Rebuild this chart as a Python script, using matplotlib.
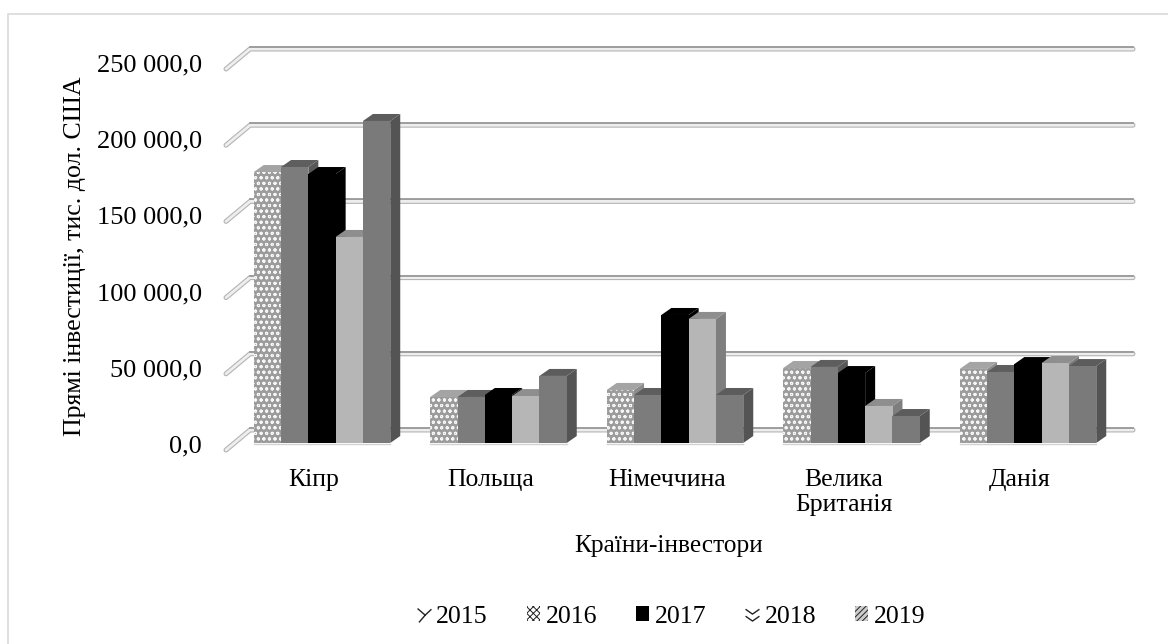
import matplotlib
matplotlib.use("Agg")
import matplotlib.pyplot as plt
from matplotlib.lines import Line2D
from matplotlib.patches import Patch
from matplotlib.path import Path
from matplotlib.transforms import Affine2D

plt.rcParams['font.family'] = ['Liberation Serif', 'DejaVu Serif']
plt.rcParams['hatch.linewidth'] = 0.7

countries = ['Кіпр', 'Польща', 'Німеччина', 'Велика\nБританія', 'Данія']
years = ['2015', '2016', '2017', '2018', '2019']
v2015 = [177800, 30200, 34800, 49200, 48600]
v2016 = [181100, 30200, 31500, 49900, 46600]
v2017 = [176500, 31500, 84000, 45900, 51800]
v2018 = [135200, 30800, 81400, 24300, 52500]
v2019 = [211300, 44000, 31500, 17700, 50500]
series = [v2015, v2016, v2017, v2018, v2019]
yticks = [0, 50000, 100000, 150000, 200000, 250000]
ytick_labels = ['0,0', '50 000,0', '100 000,0', '150 000,0', '200 000,0', '250 000,0']

front = ['#9c9c9c', '#7c7c7c', '#000000', '#b6b6b6', '#7a7a7a']
hatches = ['ooo', None, None, None, None]
tops = ['#a4a4a4', '#5e5e5e', '#000000', '#8e8e8e', '#5c5c5c']
sides = ['#8c8c8c', '#585858', '#000000', '#7e7e7e', '#545454']

W, H = 1168, 644
fig = plt.figure(figsize=(W / 100, H / 100), dpi=100, facecolor='white')
PX_L, PX_R, PX_B, PX_T = 226, 1135, 443, 62
ax = fig.add_axes([PX_L / W, 1 - PX_B / H, (PX_R - PX_L) / W, (PX_B - PX_T) / H])
STEP = 176.5
ax.set_xlim((PX_L - 322) / STEP, (PX_R - 322) / STEP)
ax.set_ylim(0, 250000)
ax.patch.set_visible(False)
for s in ax.spines.values():
    s.set_visible(False)

PXY = 250000 / (PX_B - PX_T)
BAR = 27.3 / STEP
DX, DY = 10 / STEP, 7 * PXY

# outer frame: only the left and top edges are visible
fig.add_artist(Line2D([8 / W, 8 / W, 1], [0, 1 - 14 / H, 1 - 14 / H],
                      color='#dcdcdc', lw=1.3, transform=fig.transFigure))

# back wall grid lines with their side-wall stubs
x0 = ax.get_xlim()[0]
xb = x0 + 24 / STEP
xe = (1133 - 322) / STEP
wall = ax.transData + Affine2D().translate(0, 13)
wall_top = ax.transData + Affine2D().translate(0, 15)
floor = 6 * PXY
for v in yticks:
    xs = [x0, xb, xe]
    ys = [v - 14 * PXY - floor, v, v]
    ax.plot(xs, ys, color='#b4b4b4', lw=3.6, solid_capstyle='round', solid_joinstyle='round',
            transform=wall, clip_on=False, zorder=1)
    ax.plot(xs, ys, color='#eeeeee', lw=2.0, solid_capstyle='round', solid_joinstyle='round',
            transform=wall, clip_on=False, zorder=1.1)
    ax.plot([xb, xe], [v, v], color='#9a9a9a', lw=1.3, transform=wall_top,
            clip_on=False, zorder=1.2)

# bars: front face from ax.bar, top and side faces as sheared polygons
for i, vals in enumerate(series):
    for k, v in enumerate(vals):
        x = k + (i - 2) * BAR
        z = 3 + i
        l, r = x - BAR / 2, x + BAR / 2
        ax.fill([r, r + DX, r + DX, r], [0, DY, v + DY, v], color=sides[i], lw=0, zorder=z, clip_on=False)
        ax.fill([l, l + DX, r + DX, r], [v, v + DY, v + DY, v], color=tops[i], lw=0, zorder=z, clip_on=False)
    ax.bar([k + (i - 2) * BAR for k in range(5)], vals, width=BAR, color=front[i],
           edgecolor='#f6f6f6' if hatches[i] else front[i],
           hatch=hatches[i], lw=0, zorder=3 + i + 0.5, clip_on=False)

# floor edge beneath the bars
for k in range(5):
    ax.plot([k - 2.5 * BAR, k + 2.5 * BAR], [-0.8 * PXY, -0.8 * PXY], color='#d2d2d2', lw=1.0,
            clip_on=False, zorder=9)

FS = 18.5
ax.set_yticks(yticks, ytick_labels)
ax.set_xticks([k - 0.045 for k in range(5)], countries)
ax.tick_params(axis='y', length=0, pad=17.5, labelsize=19)
ax.tick_params(axis='x', length=0, pad=19, labelsize=FS)
shift = Affine2D().translate(0, -3.5)
for t in ax.get_yticklabels():
    t.set_verticalalignment('center')
    t.set_transform(t.get_transform() + shift)
for t in ax.get_xticklabels():
    t.set_linespacing(1.16)

fig.text(668.5 / W, 1 - 546 / H, 'Країни-інвестори', ha='center', va='center', fontsize=18.3)
fig.text(75 / W, 1 - 256 / H, 'Прямі інвестиції, тис. дол. США', rotation=90,
         ha='center', va='center', fontsize=18.6)

# legend
m15 = Path([(-1, 1), (0.1, 0.05), (1, 0.9), (0.1, 0.05), (-0.8, -1)],
           [Path.MOVETO, Path.LINETO, Path.LINETO, Path.MOVETO, Path.LINETO])
m18 = Path([(-1, 0.9), (0, 0.2), (1, 0.9), (-1, -0.1), (0, -0.8), (1, -0.1)],
           [Path.MOVETO, Path.LINETO, Path.LINETO, Path.MOVETO, Path.LINETO, Path.LINETO])
handles = [
    Line2D([], [], marker=m15, ms=10, mfc='none', mec='#222222', mew=1.0, ls='none'),
    Patch(facecolor='white', edgecolor='#222222', hatch='xxxxx', lw=0),
    Patch(facecolor='black', edgecolor='black', lw=0),
    Line2D([], [], marker=m18, ms=10, mfc='none', mec='#222222', mew=1.0, ls='none'),
    Patch(facecolor='#cccccc', edgecolor='#222222', hatch='//////', lw=0),
]
leg = fig.legend(handles, years, loc='center', bbox_to_anchor=(671.5 / W, 1 - 617 / H), ncol=5, frameon=False,
                 fontsize=18.6, handlelength=0.52, handleheight=0.52, handletextpad=0.22,
                 columnspacing=1.5, borderpad=0, borderaxespad=0)

fig.savefig('out.png', dpi=100, facecolor='white')
